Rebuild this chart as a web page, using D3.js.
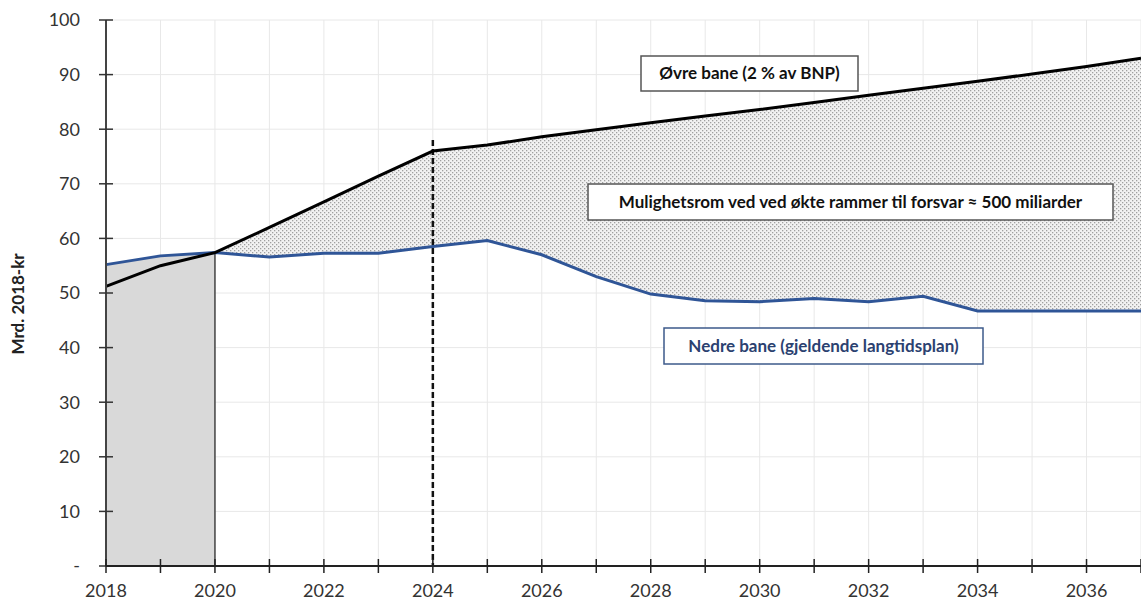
<!DOCTYPE html>
<html>
<head>
<meta charset="utf-8">
<script src="https://cdn.jsdelivr.net/npm/d3@7"></script>
<style>
  body { margin: 0; background: #fff; }
  svg { display: block; font-family: Lato, "Open Sans", sans-serif; }
</style>
</head>
<body>
<div id="chart"></div>
<script>
const width = 1141;
const height = 600;

// Data.
const years = d3.range(2018, 2038);
const upper = [51.2, 55.0, 57.4, 62.0, 66.7, 71.4, 76.0, 77.1, 78.6, 79.9, 81.2, 82.4,
  83.6, 84.9, 86.2, 87.5, 88.8, 90.1, 91.5, 93.0];
const lower = [55.2, 56.8, 57.4, 56.6, 57.3, 57.3, 58.5, 59.6, 57.0, 53.0, 49.8, 48.6,
  48.4, 49.0, 48.4, 49.4, 46.7, 46.7, 46.7, 46.7];
const yTicks = [0, 10, 20, 30, 40, 50, 60, 70, 80, 90, 100];
const xLabelYears = [2018, 2020, 2022, 2024, 2026, 2028, 2030, 2032, 2034, 2036];
const historyEnd = 2020;
const markerYear = 2024;
const markerTop = 78;

const x = d3.scaleLinear().domain([2018, 2037]).range([106, 1141]);
const y = d3.scaleLinear().domain([0, 100]).range([566, 20]);

const svg = d3.select("#chart")
  .append("svg")
  .attr("width", width)
  .attr("height", height);

// dotted fill for the gap between the two lines
const pat = svg.append("defs").append("pattern")
  .attr("id", "dots")
  .attr("width", 4)
  .attr("height", 4)
  .attr("patternUnits", "userSpaceOnUse");
pat.append("rect").attr("width", 4).attr("height", 4).attr("fill", "#f2f2f2");
pat.append("rect").attr("x", 0).attr("y", 0).attr("width", 1.3).attr("height", 1.3).attr("fill", "#a0a0a0");
pat.append("rect").attr("x", 2).attr("y", 2).attr("width", 1.3).attr("height", 1.3).attr("fill", "#a0a0a0");

// grid
svg.append("g")
  .selectAll("line")
  .data(years.slice(1))
  .join("line")
  .attr("x1", d => x(d)).attr("x2", d => x(d))
  .attr("y1", y(100)).attr("y2", y(0))
  .attr("stroke", "#e8e8e8");

svg.append("g")
  .selectAll("line")
  .data(yTicks.slice(1))
  .join("line")
  .attr("x1", x(2018)).attr("x2", width)
  .attr("y1", d => y(d)).attr("y2", d => y(d))
  .attr("stroke", "#e8e8e8");

const rows = years.map((yr, i) => ({ yr, hi: upper[i], lo: lower[i] }));

// historic grey block
const hist = rows.filter(d => d.yr <= historyEnd);
svg.append("path")
  .datum(hist)
  .attr("fill", "#d9d9d9")
  .attr("d", d3.area().x(d => x(d.yr)).y0(y(0)).y1(d => y(d.lo)));

svg.append("line")
  .attr("x1", x(historyEnd)).attr("x2", x(historyEnd))
  .attr("y1", y(0)).attr("y2", y(lower[years.indexOf(historyEnd)]))
  .attr("stroke", "#444")
  .attr("stroke-width", 1.5);

// room for increase
const future = rows.filter(d => d.yr >= historyEnd);
svg.append("path")
  .datum(future)
  .attr("fill", "url(#dots)")
  .attr("d", d3.area().x(d => x(d.yr)).y0(d => y(d.lo)).y1(d => y(d.hi)));

// dashed marker
svg.append("line")
  .attr("x1", x(markerYear)).attr("x2", x(markerYear))
  .attr("y1", y(markerTop)).attr("y2", y(0))
  .attr("stroke", "#111")
  .attr("stroke-width", 2.5)
  .attr("stroke-dasharray", "6,3");

const line = key => d3.line().x(d => x(d.yr)).y(d => y(d[key]));

svg.append("path")
  .datum(rows)
  .attr("fill", "none")
  .attr("stroke", "#2f5597")
  .attr("stroke-width", 3)
  .attr("d", line("lo"));

svg.append("path")
  .datum(rows)
  .attr("fill", "none")
  .attr("stroke", "#000")
  .attr("stroke-width", 3)
  .attr("d", line("hi"));

// axes
const yAxis = svg.append("g").attr("transform", `translate(${x(2018)},0)`);
yAxis.append("line")
  .attr("y1", y(100)).attr("y2", y(0))
  .attr("stroke", "#444").attr("stroke-width", 2);
yAxis.selectAll(".tk")
  .data(yTicks)
  .join("line")
  .attr("x1", -7).attr("x2", 7)
  .attr("y1", d => y(d)).attr("y2", d => y(d))
  .attr("stroke", "#333").attr("stroke-width", 1.5);
yAxis.selectAll("text")
  .data(yTicks)
  .join("text")
  .attr("x", -26)
  .attr("y", d => y(d))
  .attr("dy", "0.35em")
  .attr("text-anchor", "end")
  .attr("font-size", 18)
  .attr("fill", "#333")
  .text(d => d === 0 ? "-" : d);

const xAxis = svg.append("g").attr("transform", `translate(0,${y(0)})`);
xAxis.append("line")
  .attr("x1", x(2018)).attr("x2", width)
  .attr("stroke", "#222").attr("stroke-width", 2);
xAxis.selectAll(".tk")
  .data(years)
  .join("line")
  .attr("x1", d => x(d)).attr("x2", d => x(d))
  .attr("y1", -7).attr("y2", 7)
  .attr("stroke", "#222").attr("stroke-width", 1.5);
xAxis.selectAll("text")
  .data(xLabelYears)
  .join("text")
  .attr("x", d => x(d))
  .attr("y", 25)
  .attr("dy", "0.35em")
  .attr("text-anchor", "middle")
  .attr("font-size", 18)
  .attr("fill", "#333")
  .text(d => d);

svg.append("text")
  .attr("transform", `translate(24,${y(48)}) rotate(-90)`)
  .attr("text-anchor", "middle")
  .attr("font-size", 17)
  .attr("font-weight", "bold")
  .attr("fill", "#222")
  .text("Mrd. 2018-kr");

// annotation boxes
const notes = [
  { text: "Øvre bane (2 % av BNP)", x0: 641, y0: 56, w: 217, h: 35, color: "#111", border: "#555" },
  { text: "Mulighetsrom ved ved økte rammer til forsvar ≈ 500  miliarder", x0: 588, y0: 184, w: 525, h: 36, color: "#111", border: "#555" },
  { text: "Nedre bane (gjeldende langtidsplan)", x0: 664, y0: 328, w: 319, h: 36, color: "#2b4170", border: "#3d5a8a" }
];
const note = svg.append("g")
  .selectAll("g")
  .data(notes)
  .join("g");
note.append("rect")
  .attr("x", d => d.x0).attr("y", d => d.y0)
  .attr("width", d => d.w).attr("height", d => d.h)
  .attr("fill", "#fff")
  .attr("stroke", d => d.border)
  .attr("stroke-width", 1.5);
note.append("text")
  .attr("x", d => d.x0 + d.w / 2)
  .attr("y", d => d.y0 + d.h / 2)
  .attr("dy", "0.35em")
  .attr("text-anchor", "middle")
  .attr("font-size", 17)
  .attr("font-weight", "bold")
  .attr("fill", d => d.color)
  .text(d => d.text);
</script>
</body>
</html>
